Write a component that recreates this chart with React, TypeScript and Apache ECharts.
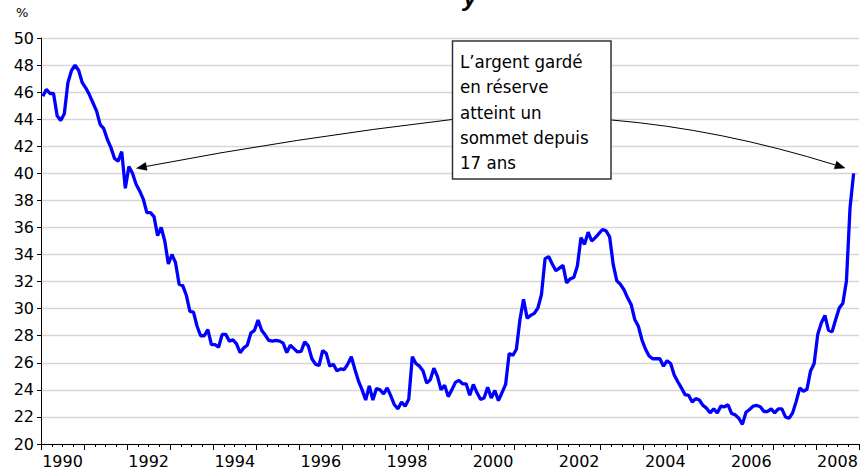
import React, { useEffect, useRef } from "react";
import * as echarts from "echarts";

// Monthly values, Jan 1990 onward (%)
const reserveShare: number[] = [
  45.7, 46.2, 45.9, 45.9, 44.25, 43.9, 44.4, 46.7, 47.6, 48.0, 47.6, 46.7,
  46.3, 45.8, 45.2, 44.6, 43.6, 43.3, 42.5, 41.9, 41.1, 40.9, 41.6, 38.9,
  40.5, 40.0, 39.2, 38.7, 38.1, 37.1, 37.1, 36.8, 35.4, 36.0, 35.0, 33.3,
  34.0, 33.4, 31.8, 31.7, 31.0, 29.8, 29.75, 28.7, 28.0, 28.0, 28.45, 27.35,
  27.35, 27.15, 28.1, 28.1, 27.6, 27.7, 27.4, 26.75, 27.1, 27.3, 28.2, 28.4,
  29.15, 28.4, 28.05, 27.65, 27.6, 27.65, 27.6, 27.45, 26.75, 27.3, 27.05, 26.8,
  26.85, 27.55, 27.25, 26.3, 25.9, 25.8, 26.9, 26.7, 25.75, 25.9, 25.4, 25.55,
  25.5, 25.9, 26.45, 25.5, 24.65, 24.0, 23.25, 24.3, 23.25, 24.1, 24.0, 23.7,
  24.15, 23.55, 22.9, 22.6, 23.1, 22.8, 23.3, 26.45, 25.95, 25.75, 25.4, 24.5,
  24.75, 25.6, 25.0, 24.0, 24.35, 23.5, 24.0, 24.55, 24.7, 24.45, 24.45, 23.6,
  24.4, 23.8, 23.3, 23.4, 24.2, 23.4, 23.95, 23.2, 23.8, 24.4, 26.7, 26.55,
  27.0, 29.2, 30.7, 29.3, 29.5, 29.65, 30.05, 31.05, 33.7, 33.85, 33.3, 32.8,
  33.0, 33.2, 31.9, 32.2, 32.3, 33.15, 35.25, 34.75, 35.65, 35.0, 35.25, 35.55,
  35.85, 35.75, 35.3, 33.25, 32.05, 31.8, 31.4, 30.8, 30.3, 29.2, 28.7, 27.7,
  27.0, 26.5, 26.3, 26.3, 26.3, 25.75, 26.15, 25.95, 25.1, 24.6, 24.15, 23.65,
  23.6, 23.1, 23.35, 23.25, 22.85, 22.65, 22.3, 22.6, 22.3, 22.8, 22.75, 22.9,
  22.25, 22.15, 21.9, 21.45, 22.35, 22.55, 22.8, 22.85, 22.75, 22.4, 22.4, 22.6,
  22.3, 22.6, 22.6, 22.0, 21.9, 22.3, 23.15, 24.15, 23.9, 24.05, 25.4, 25.95,
  28.1, 28.95, 29.5, 28.4, 28.3, 29.2, 30.05, 30.4, 32.05, 37.45, 40.0,
];

const years: number[] = [
  1990, 1991, 1992, 1993, 1994, 1995, 1996, 1997, 1998, 1999, 2000, 2001, 2002,
  2003, 2004, 2005, 2006, 2007, 2008,
];
const shownYearLabels: string[] = [
  "1990", "1992", "1994", "1996", "1998", "2000", "2002", "2004", "2006", "2008",
];

const yMin = 20;
const yMax = 50;
const yStep = 2;

const annotationLines: string[] = [
  "L\u2019argent gardé",
  "en réserve",
  "atteint un",
  "sommet depuis",
  "17 ans",
];

const AXIS_FONT = "'DejaVu Sans', 'Liberation Sans', sans-serif";
const NOTE_FONT = "'Liberation Sans Narrow', 'DejaVu Sans Condensed', 'Liberation Sans', sans-serif";

export default function App() {
  const ref = useRef<HTMLDivElement>(null);

  useEffect(() => {
    if (!ref.current) return;
    const chart = echarts.init(ref.current, null, { renderer: "svg" });
    const months = years.length * 12;

    // arrow geometry
    const leftStart = [452, 119.5];
    const leftCtrl = [294.5, 138];
    const leftTip = [136.5, 168.3];
    const rightStart = [611.5, 120];
    const rightCtrl = [720, 129];
    const rightTip = [845, 168];

    const head = (tip: number[], ctrl: number[]) => {
      const dx = tip[0] - ctrl[0];
      const dy = tip[1] - ctrl[1];
      const len = Math.hypot(dx, dy);
      const ux = dx / len;
      const uy = dy / len;
      const L = 10;
      const W = 4;
      const bx = tip[0] - ux * L;
      const by = tip[1] - uy * L;
      return {
        base: [bx, by],
        points: [
          [tip[0], tip[1]],
          [bx - uy * W, by + ux * W],
          [bx + uy * W, by - ux * W],
        ],
      };
    };
    const lh = head(leftTip, leftCtrl);
    const rh = head(rightTip, rightCtrl);

    chart.setOption({
      animation: false,
      backgroundColor: "#ffffff",
      grid: { left: 41, right: 6, top: 38, bottom: 31, containLabel: false },
      xAxis: [
        {
          type: "value",
          min: 0,
          max: months,
          interval: 12,
          axisLine: { show: true, onZero: false, lineStyle: { color: "#000", width: 1 } },
          axisTick: { show: true, length: 6, lineStyle: { color: "#000", width: 1 } },
          minorTick: { show: true, splitNumber: 4, length: 3, lineStyle: { color: "#000", width: 1 } },
          axisLabel: { show: false },
          splitLine: { show: false },
        },
        {
          type: "category",
          position: "bottom",
          boundaryGap: true,
          data: years.map(String),
          axisLine: { show: false },
          axisTick: { show: false },
          splitLine: { show: false },
          axisLabel: {
            interval: 0,
            margin: 9,
            fontFamily: AXIS_FONT,
            fontSize: 16,
            color: "#000",
            formatter: (v: string) => (shownYearLabels.includes(v) ? v : ""),
          },
        },
      ],
      yAxis: {
        type: "value",
        min: yMin,
        max: yMax,
        interval: yStep,
        axisLine: { show: true, lineStyle: { color: "#000", width: 1 } },
        axisTick: { show: true, length: 4, lineStyle: { color: "#000", width: 1 } },
        axisLabel: {
          margin: 7,
          fontFamily: AXIS_FONT,
          fontSize: 16,
          color: "#000",
        },
        splitLine: { show: true, lineStyle: { color: "#d6d6d6", width: 1.3 } },
      },
      series: [
        {
          type: "line",
          xAxisIndex: 0,
          data: reserveShare.map((v, i) => [i + 0.5, v]),
          symbol: "none",
          lineStyle: { color: "#0000ff", width: 3.3 },
          z: 3,
        },
      ],
      graphic: [
        {
          type: "text",
          left: 16,
          top: 6,
          style: { text: "%", fontFamily: AXIS_FONT, fontSize: 13, fill: "#000" },
        },
        {
          type: "text",
          x: 463,
          y: 10,
          style: {
            text: "y",
            fontFamily: "'Liberation Sans', sans-serif",
            fontStyle: "italic",
            fontWeight: "bold",
            fontSize: 26,
            fill: "#000",
            verticalAlign: "bottom",
          },
        },
        {
          type: "bezierCurve",
          shape: {
            x1: leftStart[0], y1: leftStart[1],
            x2: lh.base[0], y2: lh.base[1],
            cpx1: leftCtrl[0], cpy1: leftCtrl[1],
          },
          style: { stroke: "#000", lineWidth: 1, fill: null },
          z: 10,
        },
        {
          type: "polygon",
          shape: { points: lh.points },
          style: { fill: "#000", stroke: "#000", lineWidth: 0.5 },
          z: 10,
        },
        {
          type: "bezierCurve",
          shape: {
            x1: rightStart[0], y1: rightStart[1],
            x2: rh.base[0], y2: rh.base[1],
            cpx1: rightCtrl[0], cpy1: rightCtrl[1],
          },
          style: { stroke: "#000", lineWidth: 1, fill: null },
          z: 10,
        },
        {
          type: "polygon",
          shape: { points: rh.points },
          style: { fill: "#000", stroke: "#000", lineWidth: 0.5 },
          z: 10,
        },
        {
          type: "rect",
          shape: { x: 452.5, y: 41, width: 158.5, height: 138 },
          style: { fill: "#fff", stroke: "#333", lineWidth: 1.5 },
          z: 11,
        },
        {
          type: "text",
          x: 460,
          y: 49,
          z: 12,
          style: {
            text: annotationLines.join("\n"),
            fontFamily: NOTE_FONT,
            fontSize: 18.5,
            lineHeight: 25.3,
            fill: "#000",
            verticalAlign: "top",
          },
        },
      ],
    });

    return () => chart.dispose();
  }, []);

  return (
    <div
      ref={ref}
      style={{ position: "absolute", left: 0, top: 0, width: 865, height: 475 }}
    />
  );
}
